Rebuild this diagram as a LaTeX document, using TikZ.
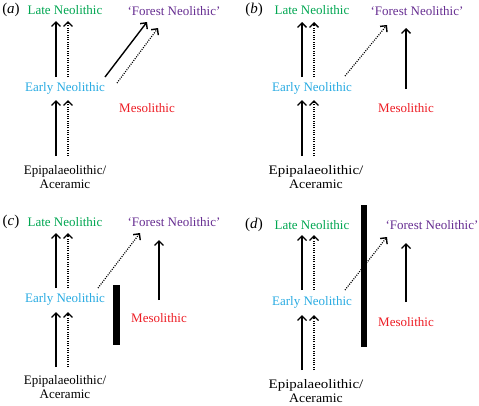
\documentclass[tikz,border=0pt]{standalone}
\usepackage{fontspec}
\setmainfont{Liberation Serif}
\usetikzlibrary{arrows.meta}
\definecolor{lngreen}{RGB}{0,166,81}
\definecolor{encyan}{RGB}{41,171,226}
\definecolor{mered}{RGB}{237,28,36}
\definecolor{fnpurple}{RGB}{102,45,145}
\tikzset{
  lab/.style={inner sep=0pt, font=\fontsize{13}{14}\selectfont, align=center},
  panlab/.style={inner sep=0pt, font=\fontsize{15}{16}\selectfont},
  sarr/.style={line width=1.4pt, -{Straight Barb[length=4.5pt,width=9pt,line width=1.4pt]}},
  darr/.style={line width=1.2pt, dash pattern=on 1pt off 1.3pt, -{Straight Barb[length=4.5pt,width=9pt,line width=1.4pt]}},
  barbox/.style={fill=black, inner sep=0pt, draw=none}
}
\begin{document}
\begin{tikzpicture}[x=1pt,y=-1pt]
\useasboundingbox (0,0) rectangle (479,405);
% ---------- (a)
\node[panlab] (pa) at (11,10) {(\textit{a})};
\node[lab,text=lngreen] (lnA) at (65,10) {Late Neolithic};
\node[lab,text=fnpurple] (fnA) at (174,11) {‘Forest Neolithic’};
\node[lab,text=encyan] (enA) at (65,88) {Early Neolithic};
\node[lab,text=mered] (meA) at (147,108) {Mesolithic};
\node[lab] (epA) at (65,177) {Epipalaeolithic/\\Aceramic};
\draw[sarr] ([shift={(-9,-11)}]enA.center) -- ([shift={(-9,11)}]lnA.center);
\draw[darr] ([shift={(3,-11)}]enA.center) -- ([shift={(3,11)}]lnA.center);
\draw[sarr] ([shift={(-9,-21)}]epA.center) -- ([shift={(-9,12)}]enA.center);
\draw[darr] ([shift={(3,-21)}]epA.center) -- ([shift={(3,12)}]enA.center);
\draw[sarr] ([shift={(40,-11)}]enA.center) -- ([shift={(-27,11)}]fnA.center);
\draw[darr] ([shift={(52,-5)}]enA.center) -- ([shift={(-16,17)}]fnA.center);
% ---------- (b)
\node[panlab] (pb) at (254,10) {(\textit{b})};
\node[lab,text=lngreen] (lnB) at (312,10) {Late Neolithic};
\node[lab,text=fnpurple] (fnB) at (417,11) {‘Forest Neolithic’};
\node[lab,text=encyan] (enB) at (312,88) {Early Neolithic};
\node[lab,text=mered] (meB) at (406,108) {Mesolithic};
\node[lab] (epB) at (316,177) {\scalebox{1.15}[1]{Epipalaeolithic/}\\\scalebox{1.06}[1]{Aceramic}};
\draw[sarr] ([shift={(-10,-11)}]enB.center) -- ([shift={(-10,12)}]lnB.center);
\draw[darr] ([shift={(2,-11)}]enB.center) -- ([shift={(2,12)}]lnB.center);
\draw[sarr] ([shift={(-14,-21)}]epB.center) -- ([shift={(-10,12)}]enB.center);
\draw[darr] ([shift={(-2,-21)}]epB.center) -- ([shift={(2,12)}]enB.center);
\draw[darr] ([shift={(33,-12)}]enB.center) -- ([shift={(-30,14)}]fnB.center);
\draw[sarr] ([shift={(0,-19)}]meB.center) -- ([shift={(-11,17)}]fnB.center);
% ---------- (c)
\node[panlab] (pc) at (11,222) {(\textit{c})};
\node[lab,text=lngreen] (lnC) at (65,222) {Late Neolithic};
\node[lab,text=fnpurple] (fnC) at (174,222) {‘Forest Neolithic’};
\node[lab,text=encyan] (enC) at (65,299) {Early Neolithic};
\node[lab,text=mered] (meC) at (159,318) {Mesolithic};
\node[lab] (epC) at (65,387) {Epipalaeolithic/\\Aceramic};
\node[barbox, minimum width=7pt, minimum height=60pt] (barC) at (116.5,315) {};
\draw[sarr] ([shift={(-9,-11)}]enC.center) -- ([shift={(-9,11)}]lnC.center);
\draw[darr] ([shift={(3,-11)}]enC.center) -- ([shift={(3,11)}]lnC.center);
\draw[sarr] ([shift={(-9,-20)}]epC.center) -- ([shift={(-9,13)}]enC.center);
\draw[darr] ([shift={(3,-20)}]epC.center) -- ([shift={(3,13)}]enC.center);
\draw[darr] ([shift={(33,-11)}]enC.center) -- ([shift={(-34,11)}]fnC.center);
\draw[sarr] ([shift={(0,-18)}]meC.center) -- ([shift={(-15,18)}]fnC.center);
% ---------- (d)
\node[panlab] (pd) at (254,225) {(\textit{d})};
\node[lab,text=lngreen] (lnD) at (312,225) {Late Neolithic};
\node[lab,text=fnpurple] (fnD) at (432,225) {‘Forest Neolithic’};
\node[lab,text=encyan] (enD) at (312,302) {Early Neolithic};
\node[lab,text=mered] (meD) at (406,322) {Mesolithic};
\node[lab] (epD) at (316,391) {\scalebox{1.15}[1]{Epipalaeolithic/}\\\scalebox{1.06}[1]{Aceramic}};
\node[barbox, minimum width=6pt, minimum height=142pt] (barD) at (364,276) {};
\draw[sarr] ([shift={(-10,-12)}]enD.center) -- ([shift={(-10,10)}]lnD.center);
\draw[darr] ([shift={(2,-12)}]enD.center) -- ([shift={(2,10)}]lnD.center);
\draw[sarr] ([shift={(-14,-21)}]epD.center) -- ([shift={(-10,13)}]enD.center);
\draw[darr] ([shift={(-2,-21)}]epD.center) -- ([shift={(2,13)}]enD.center);
\draw[darr] ([shift={(33,-12)}]enD.center) -- ([shift={(-45,12)}]fnD.center);
\draw[sarr] ([shift={(0,-20)}]meD.center) -- ([shift={(-26,18)}]fnD.center);
\end{tikzpicture}
\end{document}
